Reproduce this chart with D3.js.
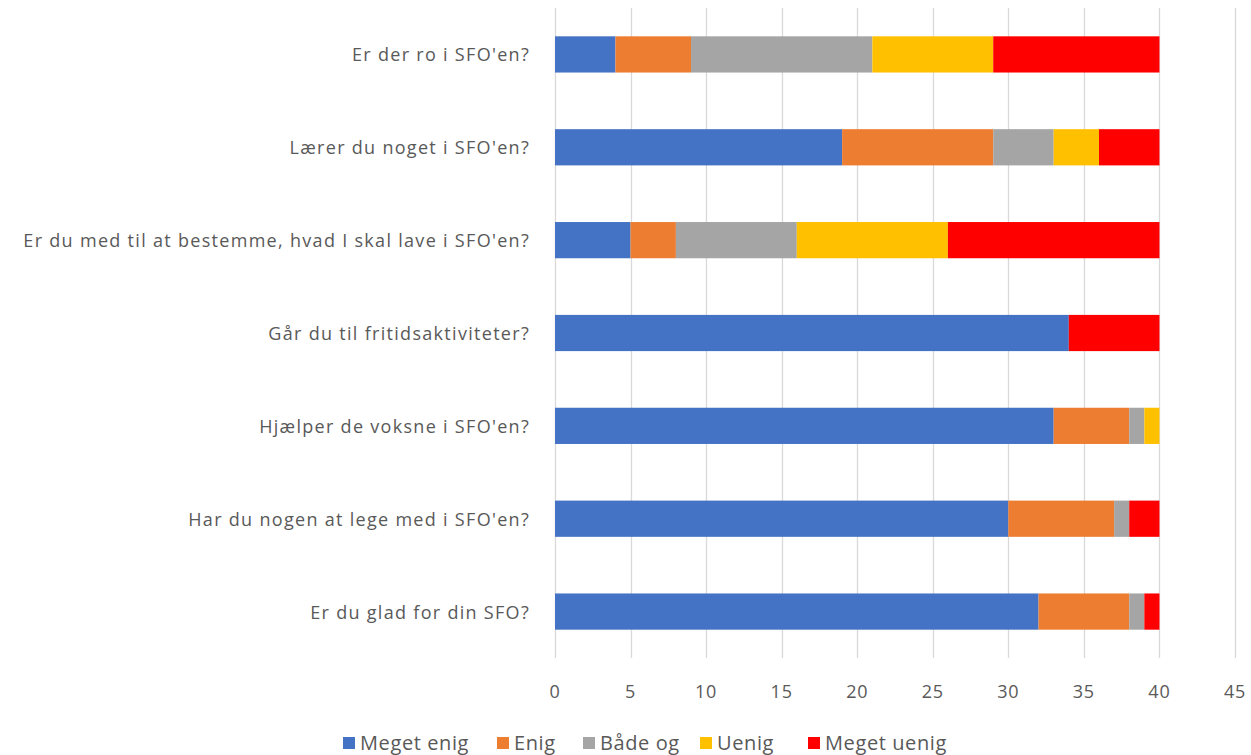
<!doctype html>
<html>
<head>
<meta charset="utf-8">
<style>
body { margin: 0; background: #fff; }
svg { font-family: "Open Sans", sans-serif; }
</style>
<script src="https://d3js.org/d3.v7.min.js"></script>
</head>
<body>
<svg width="1251" height="755"></svg>
<script>
// questions, top to bottom
var questions = [
  "Er der ro i SFO'en?",
  "Lærer du noget i SFO'en?",
  "Er du med til at bestemme, hvad I skal lave i SFO'en?",
  "Går du til fritidsaktiviteter?",
  "Hjælper de voksne i SFO'en?",
  "Har du nogen at lege med i SFO'en?",
  "Er du glad for din SFO?"
];
var seriesNames = ["Meget enig", "Enig", "Både og", "Uenig", "Meget uenig"];
var seriesColors = ["#4472c4", "#ed7d31", "#a5a5a5", "#ffc000", "#ff0000"];

var megetEnig  = [4, 19, 5, 34, 33, 30, 32];
var enig       = [5, 10, 3, 0, 5, 7, 6];
var baadeOg    = [12, 4, 8, 0, 1, 1, 1];
var uenig      = [8, 3, 10, 0, 1, 0, 0];
var megetUenig = [11, 4, 14, 6, 0, 2, 1];
var xTicks = [0, 5, 10, 15, 20, 25, 30, 35, 40, 45];

var svg = d3.select("svg");
var margin = {left: 555, right: 16, top: 8, bottom: 97};
var width = 1251, height = 755;

var rows = questions.map(function(q, i) {
  return {q: q, "Meget enig": megetEnig[i], "Enig": enig[i], "Både og": baadeOg[i],
          "Uenig": uenig[i], "Meget uenig": megetUenig[i]};
});
var stacked = d3.stack().keys(seriesNames)(rows);

var x = d3.scaleLinear().domain([0, 45]).range([margin.left, 1235]);
var y = d3.scaleBand().domain(questions).range([margin.top, height - margin.bottom]).paddingInner(0.61).paddingOuter(0.305);
var color = d3.scaleOrdinal().domain(seriesNames).range(seriesColors);

// gridlines
svg.append("g").selectAll("line")
  .data(xTicks).enter().append("line")
  .attr("x1", function(d) { return Math.round(x(d)) + 0.5; })
  .attr("x2", function(d) { return Math.round(x(d)) + 0.5; })
  .attr("y1", margin.top).attr("y2", height - margin.bottom)
  .attr("stroke", "#d9d9d9").attr("stroke-width", 1.3);

svg.append("g").selectAll("g")
  .data(stacked).enter().append("g")
  .attr("fill", function(d) { return color(d.key); })
  .selectAll("rect")
  .data(function(d) { return d; }).enter().append("rect")
  .attr("x", function(d) { return x(d[0]); })
  .attr("width", function(d) { return x(d[1]) - x(d[0]); })
  .attr("y", function(d) { return y(d.data.q); })
  .attr("height", y.bandwidth());

// x tick labels
svg.append("g").selectAll("text")
  .data(xTicks).enter().append("text")
  .attr("x", function(d) { return x(d); })
  .attr("y", 698)
  .attr("text-anchor", "middle")
  .attr("fill", "#595959")
  .style("font-size", "18px")
  .style("letter-spacing", "0.8px")
  .text(function(d) { return d; });

// category labels
svg.append("g").selectAll("text")
  .data(questions).enter().append("text")
  .attr("x", 530)
  .attr("y", function(d) { return y(d) + y.bandwidth() / 2 + 7; })
  .attr("text-anchor", "end")
  .attr("fill", "#595959")
  .style("font-size", "18px")
  .style("letter-spacing", "1.3px")
  .text(function(d) { return d; });

// legend
var legendX = [343, 497, 583, 700, 808];
var legend = svg.append("g").selectAll("g")
  .data(seriesNames).enter().append("g")
  .attr("transform", function(d, i) { return "translate(" + legendX[i] + ",737)"; });
legend.append("rect").attr("width", 12).attr("height", 12).attr("fill", function(d) { return color(d); });
legend.append("text").attr("x", 17).attr("y", 13)
  .attr("fill", "#595959").style("font-size", "20px")
  .style("letter-spacing", "0.6px")
  .text(function(d) { return d; });
</script>
</body>
</html>
